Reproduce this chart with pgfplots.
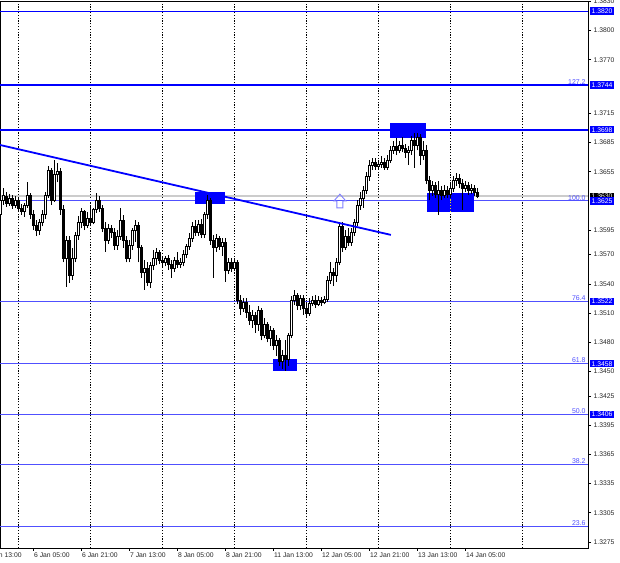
\documentclass[border=0pt]{standalone}
\usepackage{pgfplots}
\pgfplotsset{compat=1.18}
\usepackage{pgfplotstable}
\usepackage{fontspec}
\setmainfont{Liberation Sans}

\definecolor{mtblue}{RGB}{0,0,255}
\definecolor{fibblue}{RGB}{80,80,255}

% hourly candles: bar index (0 = 6 Jan 00:00), open high low close
\pgfplotstableread{
bar open high low close
-6 1.3611 1.3631 1.3592 1.3626
-5 1.3626 1.3638 1.3621 1.3631
-4 1.3630 1.3634 1.3619 1.3623
-3 1.3623 1.3632 1.3620 1.3628
-2 1.3628 1.3631 1.3617 1.3621
-1 1.3621 1.3630 1.3618 1.3626
0 1.3626 1.3628 1.3614 1.3618
1 1.3618 1.3622 1.3611 1.3614
2 1.3614 1.3623 1.3609 1.3621
3 1.3621 1.3644 1.3618 1.3631
4 1.3631 1.3633 1.3607 1.3611
5 1.3611 1.3616 1.3595 1.3600
6 1.3600 1.3605 1.3589 1.3595
7 1.3595 1.3607 1.3590 1.3603
8 1.3603 1.3616 1.3599 1.3611
9 1.3611 1.3634 1.3607 1.3631
10 1.3631 1.3661 1.3628 1.3657
11 1.3657 1.3659 1.3621 1.3626
12 1.3626 1.3667 1.3624 1.3652
13 1.3652 1.3664 1.3644 1.3655
14 1.3655 1.3659 1.3611 1.3616
15 1.3616 1.3621 1.3562 1.3566
16 1.3566 1.3589 1.3537 1.3585
17 1.3585 1.3589 1.3541 1.3549
18 1.3549 1.3577 1.3544 1.3566
19 1.3566 1.3593 1.3562 1.3590
20 1.3590 1.3610 1.3585 1.3603
21 1.3603 1.3618 1.3597 1.3614
22 1.3614 1.3616 1.3595 1.3600
23 1.3600 1.3614 1.3597 1.3607
24 1.3607 1.3621 1.3599 1.3603
25 1.3603 1.3618 1.3601 1.3616
26 1.3616 1.3633 1.3613 1.3626
27 1.3626 1.3630 1.3614 1.3618
28 1.3618 1.3621 1.3593 1.3597
29 1.3597 1.3603 1.3573 1.3585
30 1.3585 1.3601 1.3581 1.3597
31 1.3597 1.3600 1.3587 1.3593
32 1.3593 1.3597 1.3575 1.3580
33 1.3580 1.3595 1.3575 1.3589
34 1.3589 1.3618 1.3585 1.3605
35 1.3605 1.3611 1.3577 1.3585
36 1.3585 1.3589 1.3562 1.3566
37 1.3566 1.3585 1.3562 1.3580
38 1.3580 1.3597 1.3575 1.3595
39 1.3595 1.3605 1.3583 1.3600
40 1.3600 1.3603 1.3562 1.3577
41 1.3577 1.3580 1.3546 1.3552
42 1.3552 1.3564 1.3534 1.3556
43 1.3556 1.3562 1.3538 1.3542
44 1.3542 1.3562 1.3536 1.3559
45 1.3559 1.3575 1.3554 1.3566
46 1.3566 1.3577 1.3559 1.3572
47 1.3572 1.3575 1.3560 1.3564
48 1.3564 1.3569 1.3556 1.3562
49 1.3562 1.3569 1.3558 1.3566
50 1.3566 1.3570 1.3554 1.3560
51 1.3560 1.3564 1.3546 1.3556
52 1.3556 1.3568 1.3552 1.3564
53 1.3564 1.3573 1.3556 1.3560
54 1.3560 1.3566 1.3556 1.3562
55 1.3562 1.3575 1.3558 1.3570
56 1.3570 1.3581 1.3566 1.3579
57 1.3579 1.3592 1.3575 1.3587
58 1.3587 1.3603 1.3583 1.3599
59 1.3599 1.3605 1.3589 1.3593
60 1.3593 1.3605 1.3589 1.3601
61 1.3601 1.3607 1.3587 1.3591
62 1.3591 1.3614 1.3587 1.3611
63 1.3611 1.3631 1.3607 1.3626
64 1.3626 1.3628 1.3580 1.3585
65 1.3585 1.3590 1.3546 1.3577
66 1.3577 1.3591 1.3573 1.3587
67 1.3587 1.3589 1.3575 1.3579
68 1.3579 1.3587 1.3569 1.3583
69 1.3583 1.3587 1.3542 1.3554
70 1.3554 1.3566 1.3550 1.3562
71 1.3562 1.3566 1.3552 1.3556
72 1.3556 1.3566 1.3554 1.3562
73 1.3562 1.3564 1.3519 1.3523
74 1.3523 1.3528 1.3508 1.3515
75 1.3515 1.3525 1.3511 1.3521
76 1.3521 1.3525 1.3505 1.3511
77 1.3511 1.3518 1.3498 1.3503
78 1.3503 1.3513 1.3495 1.3508
79 1.3508 1.3511 1.3490 1.3498
80 1.3498 1.3517 1.3492 1.3513
81 1.3513 1.3515 1.3482 1.3487
82 1.3487 1.3505 1.3484 1.3498
83 1.3498 1.3501 1.3480 1.3484
84 1.3484 1.3497 1.3476 1.3492
85 1.3492 1.3495 1.3472 1.3477
86 1.3477 1.3487 1.3466 1.3482
87 1.3482 1.3484 1.3456 1.3460
88 1.3460 1.3472 1.3453 1.3467
89 1.3467 1.3482 1.3451 1.3462
90 1.3462 1.3490 1.3456 1.3487
91 1.3487 1.3527 1.3484 1.3523
92 1.3523 1.3534 1.3518 1.3528
93 1.3528 1.3531 1.3513 1.3518
94 1.3518 1.3529 1.3513 1.3525
95 1.3525 1.3528 1.3508 1.3515
96 1.3515 1.3521 1.3505 1.3510
97 1.3510 1.3525 1.3507 1.3520
98 1.3520 1.3527 1.3517 1.3523
99 1.3523 1.3528 1.3515 1.3519
100 1.3519 1.3527 1.3517 1.3523
101 1.3523 1.3526 1.3517 1.3521
102 1.3521 1.3527 1.3519 1.3524
103 1.3524 1.3548 1.3521 1.3544
104 1.3544 1.3562 1.3540 1.3552
105 1.3552 1.3556 1.3538 1.3549
106 1.3549 1.3566 1.3542 1.3562
107 1.3562 1.3603 1.3559 1.3599
108 1.3599 1.3603 1.3573 1.3577
109 1.3577 1.3595 1.3575 1.3589
110 1.3589 1.3597 1.3579 1.3583
111 1.3583 1.3597 1.3579 1.3593
112 1.3593 1.3607 1.3589 1.3603
113 1.3603 1.3626 1.3599 1.3621
114 1.3621 1.3634 1.3616 1.3628
115 1.3628 1.3640 1.3618 1.3636
116 1.3636 1.3655 1.3632 1.3650
117 1.3650 1.3667 1.3646 1.3662
118 1.3662 1.3669 1.3657 1.3665
119 1.3665 1.3669 1.3657 1.3661
120 1.3661 1.3667 1.3657 1.3663
121 1.3663 1.3671 1.3659 1.3665
122 1.3665 1.3669 1.3657 1.3660
123 1.3660 1.3672 1.3657 1.3667
124 1.3667 1.3681 1.3664 1.3677
125 1.3677 1.3687 1.3673 1.3681
126 1.3681 1.3690 1.3672 1.3677
127 1.3677 1.3687 1.3674 1.3682
128 1.3682 1.3691 1.3675 1.3679
129 1.3679 1.3683 1.3669 1.3675
130 1.3675 1.3681 1.3662 1.3677
131 1.3677 1.3692 1.3672 1.3687
132 1.3687 1.3695 1.3659 1.3682
133 1.3682 1.3695 1.3677 1.3690
134 1.3690 1.3694 1.3662 1.3672
135 1.3672 1.3687 1.3667 1.3677
136 1.3677 1.3682 1.3642 1.3646
137 1.3646 1.3651 1.3626 1.3636
138 1.3636 1.3646 1.3630 1.3641
139 1.3641 1.3644 1.3628 1.3632
140 1.3632 1.3646 1.3611 1.3636
141 1.3636 1.3640 1.3626 1.3631
142 1.3631 1.3641 1.3628 1.3636
143 1.3636 1.3640 1.3628 1.3632
144 1.3632 1.3644 1.3628 1.3638
145 1.3638 1.3651 1.3634 1.3646
146 1.3646 1.3654 1.3640 1.3648
147 1.3648 1.3653 1.3638 1.3643
148 1.3643 1.3648 1.3616 1.3638
149 1.3638 1.3646 1.3634 1.3641
150 1.3641 1.3644 1.3631 1.3636
151 1.3636 1.3642 1.3632 1.3638
152 1.3638 1.3641 1.3630 1.3634
153 1.3634 1.3638 1.3628 1.3630
}\candles

\tikzset{
  fiblab/.style={anchor=south east, inner sep=0.7bp, text=fibblue, font=\fontsize{7}{7}\selectfont},
  pricebox/.style={anchor=west, fill=mtblue, text=white, inner xsep=2bp, inner ysep=1.2bp,
                   xshift=1.5bp, font=\fontsize{6.8}{7}\selectfont},
}

\begin{document}
\begin{tikzpicture}
\begin{axis}[
    scale only axis,
    width=588bp, height=547bp,
    xmin=-6, xmax=190,
    ymin=1.32688, ymax=1.38303,
    clip=false,
    axis line style={black, line width=0.8bp},
    tick align=outside,
    major tick length=3bp,
    tick style={black, line width=0.6bp},
    xtick pos=bottom,
    ytick pos=right, yticklabel pos=right,
    xtick={5,21,37,53,69,85,101,117,133,149},
    xticklabels={6 Jan 05:00, 6 Jan 21:00, 7 Jan 13:00, 8 Jan 05:00, 8 Jan 21:00,
                 11 Jan 13:00, 12 Jan 05:00, 12 Jan 21:00, 13 Jan 13:00, 14 Jan 05:00},
    extra x ticks={0,24,48,72,96,120,144,168},
    extra x tick labels={},
    extra x tick style={grid=major, major tick length=0pt},
    major grid style={black, line width=0.7bp, dash pattern=on 1.2bp off 1.6bp},
    ytick={1.3275,1.3305,1.3335,1.3365,1.3395,1.3425,1.3450,1.3480,1.3510,1.3540,
           1.3570,1.3595,1.3655,1.3685,1.3715,1.3770,1.3800,1.3830},
    yticklabels={1.3275,1.3305,1.3335,1.3365,1.3395,1.3425,1.3450,1.3480,1.3510,1.3540,
           1.3570,1.3595,1.3655,1.3685,1.3715,1.3770,1.3800,1.3830},
    ticklabel style={font=\fontsize{6.8}{7}\selectfont, text=black!85},
    xticklabel style={anchor=north west, inner sep=0pt, xshift=1bp, yshift=-2bp},
    yticklabel style={anchor=west, inner sep=0pt, xshift=2.5bp},
]
\coordinate (bl) at (rel axis cs:0,0);
\coordinate (tr) at (rel axis cs:1,1);

% bid line
\addplot[black!20, line width=2.6bp] coordinates {(-6,1.3630) (190,1.3630)};

% levels
\addplot[mtblue, line width=0.9bp] coordinates {(-6,1.3820) (190,1.3820)};
\addplot[mtblue, line width=1.4bp] coordinates {(-6,1.3744) (190,1.3744)};
\addplot[mtblue, line width=1.4bp] coordinates {(-6,1.3698) (190,1.3698)};
\addplot[fibblue, line width=1bp] coordinates {(-6,1.3625) (190,1.3625)};
\addplot[fibblue, line width=1bp] coordinates {(-6,1.3522) (190,1.3522)};
\addplot[fibblue, line width=1bp] coordinates {(-6,1.3458) (190,1.3458)};
\addplot[fibblue, line width=1bp] coordinates {(-6,1.3406) (190,1.3406)};
\addplot[fibblue, line width=1bp] coordinates {(-6,1.3355) (190,1.3355)};
\addplot[fibblue, line width=1bp] coordinates {(-6,1.3291) (190,1.3291)};

% zones
\addplot[draw=none, fill=mtblue] coordinates {(59,1.3622) (69,1.3622) (69,1.3634) (59,1.3634)} -- cycle;
\addplot[draw=none, fill=mtblue] coordinates {(85,1.3450) (93,1.3450) (93,1.3463) (85,1.3463)} -- cycle;
\addplot[draw=none, fill=mtblue] coordinates {(124,1.3690) (136,1.3690) (136,1.3705) (124,1.3705)} -- cycle;
\addplot[draw=none, fill=mtblue] coordinates {(136.3,1.3614) (152,1.3614) (152,1.3633) (136.3,1.3633)} -- cycle;
\addplot[yellow!90!black, line width=0.7bp, dash pattern=on 1.2bp off 1.6bp] coordinates {(144,1.3614) (144,1.3633)};

% candles, one row of the table at a time: wick, then body (white when rising)
\pgfplotsinvokeforeach{0,...,159}{%
  \pgfplotstablegetelem{#1}{bar}\of\candles\let\cb\pgfplotsretval
  \pgfplotstablegetelem{#1}{open}\of\candles\let\co\pgfplotsretval
  \pgfplotstablegetelem{#1}{high}\of\candles\let\ch\pgfplotsretval
  \pgfplotstablegetelem{#1}{low}\of\candles\let\cl\pgfplotsretval
  \pgfplotstablegetelem{#1}{close}\of\candles\let\cc\pgfplotsretval
  \pgfmathsetmacro\xa{\cb-0.38}%
  \pgfmathsetmacro\xb{\cb+0.38}%
  \ifdim\cc pt>\co pt \def\cfill{white}\else\def\cfill{black}\fi
  \edef\candleplot{%
    \noexpand\addplot[black, line width=0.9bp, forget plot] coordinates {(\cb,\cl) (\cb,\ch)};
    \noexpand\addplot[draw=black, fill=\cfill, line width=0.6bp, forget plot]
      coordinates {(\xa,\co) (\xb,\co) (\xb,\cc) (\xa,\cc)} -- cycle;}%
  \candleplot
}

% trend line
\addplot[mtblue, line width=1.8bp] coordinates {(-6,1.36825) (124.3,1.35902)};

% breakout arrow
\draw[blue!50, line width=0.9bp] (axis cs:105.3,1.3625) -- (axis cs:107.3,1.3632)
   -- (axis cs:109.3,1.3625) -- (axis cs:108.3,1.3625) -- (axis cs:108.3,1.3618)
   -- (axis cs:106.3,1.3618) -- (axis cs:106.3,1.3625) -- cycle;

% fibo labels
\node[fiblab] at (axis cs:189.5,1.3744) {127.2};
\node[fiblab] at (axis cs:189.5,1.3625) {100.0};
\node[fiblab] at (axis cs:189.5,1.3522) {76.4};
\node[fiblab] at (axis cs:189.5,1.3458) {61.8};
\node[fiblab] at (axis cs:189.5,1.3406) {50.0};
\node[fiblab] at (axis cs:189.5,1.3355) {38.2};
\node[fiblab] at (axis cs:189.5,1.3291) {23.6};

% price boxes
\node[pricebox, fill=black] at (axis cs:190,1.3630) {1.3630};
\node[pricebox] at (axis cs:190,1.3820) {1.3820};
\node[pricebox] at (axis cs:190,1.3744) {1.3744};
\node[pricebox] at (axis cs:190,1.3698) {1.3698};
\node[pricebox] at (axis cs:190,1.3625) {1.3625};
\node[pricebox] at (axis cs:190,1.3522) {1.3522};
\node[pricebox] at (axis cs:190,1.3458) {1.3458};
\node[pricebox] at (axis cs:190,1.3406) {1.3406};

% label cut at the left edge
\node[anchor=north west, inner sep=0pt, xshift=1bp, yshift=-5bp, text=black!85,
      font=\fontsize{6.8}{7}\selectfont] at (axis cs:-11,1.32688) {5 Jan 13:00};
\end{axis}
\pgfresetboundingbox
\path ([yshift=-15bp]bl) rectangle ([xshift=32bp,yshift=1bp]tr);
\end{tikzpicture}
\end{document}
